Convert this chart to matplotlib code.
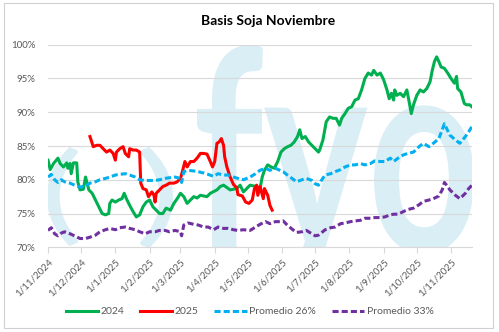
import matplotlib
matplotlib.use("Agg")
import matplotlib.pyplot as plt
import pandas as pd
from matplotlib.textpath import TextPath
from matplotlib.patches import PathPatch, Rectangle
from matplotlib.transforms import Affine2D
from matplotlib.font_manager import FontProperties

plt.rcParams['font.family'] = ['Lato', 'DejaVu Sans']

# dias contados desde el 1/11/2024, basis en %
inicio = pd.Timestamp('2024-11-01')
fin_dias = 384

dias_2024 = [0, 2, 5, 9, 11, 14, 17, 18, 20, 21, 23, 26, 27, 29, 32, 34, 37, 40, 43, 46,
             49, 52, 55, 56, 58, 61, 64, 67, 69, 71, 74, 77, 80, 83, 86, 89, 92, 95, 98, 101,
             104, 107, 111, 114, 117, 120, 123, 126, 129, 132, 135, 138, 144, 147, 153, 156,
             159, 165, 171, 174, 177, 183, 189, 192, 194, 196, 199, 202, 205, 208, 211, 214,
             217, 220, 223, 226, 228, 230, 233, 236, 239, 242, 245, 246, 249, 252, 255, 258,
             261, 264, 266, 269, 272, 275, 278, 281, 284, 287, 290, 293, 295, 298, 301, 304,
             307, 309, 311, 313, 314, 316, 319, 322, 325, 327, 329, 331, 334, 337, 340, 343,
             346, 348, 350, 352, 354, 356, 359, 362, 365, 368, 370, 371, 374, 377, 379, 382, 384]
basis_2024 = [82.9, 81.5, 82.4, 83.2, 82.4, 81.9, 82.5, 81.7, 82.4, 80.9, 82.5, 82.5, 79.7, 78.5,
              78.6, 80.4, 78.5, 78.0, 77.0, 76.0, 75.0, 74.8, 75.0, 76.5, 77.0, 76.7, 77.0, 77.2,
              78.0, 77.2, 76.2, 75.3, 74.5, 74.8, 76.0, 76.7, 77.0, 76.0, 75.5, 75.0, 75.0, 75.8,
              75.5, 76.5, 77.2, 78.0, 77.5, 76.5, 77.0, 77.5, 77.3, 77.7, 77.5, 78.0, 78.5, 79.0,
              79.2, 78.5, 78.7, 79.2, 78.2, 79.2, 79.0, 78.7, 80.4, 81.4, 82.2, 81.9, 81.7, 82.7,
              84.1, 84.6, 84.9, 85.1, 85.6, 86.4, 87.4, 86.1, 86.4, 85.6, 85.1, 84.6, 84.1, 84.4,
              85.9, 88.6, 89.3, 89.1, 89.1, 88.1, 89.1, 89.8, 90.6, 90.8, 91.8, 92.0, 93.3, 95.0,
              95.8, 95.5, 96.2, 95.5, 95.8, 94.8, 93.3, 92.0, 92.8, 91.8, 93.3, 92.5, 92.8, 92.3,
              93.3, 91.6, 89.8, 91.1, 92.5, 93.3, 93.0, 93.5, 94.5, 96.2, 97.5, 98.2, 97.5, 96.7,
              96.5, 95.8, 95.0, 94.3, 95.3, 93.5, 93.0, 91.3, 91.1, 91.1, 90.8]

dias_2025 = [38, 41, 44, 47, 50, 53, 56, 59, 61, 62, 65, 68, 70, 73, 74, 77, 80, 83, 84, 86,
             89, 91, 94, 96, 97, 98, 101, 104, 107, 110, 114, 117, 120, 122, 124, 126, 129, 132,
             135, 138, 141, 144, 147, 149, 151, 153, 155, 157, 159, 160, 162, 165, 168, 171, 172,
             176, 179, 182, 185, 187, 189, 190, 192, 195, 196, 199, 201, 203]
basis_2025 = [86.4, 84.9, 85.1, 85.1, 84.6, 84.1, 84.4, 83.9, 82.9, 84.1, 84.6, 84.9, 83.9, 83.4,
              84.6, 84.4, 84.4, 84.1, 79.5, 78.7, 78.5, 77.5, 78.2, 77.7, 76.7, 78.0, 78.5, 79.0,
              79.2, 79.5, 79.5, 79.7, 80.2, 81.4, 82.7, 81.9, 82.7, 82.7, 83.2, 83.9, 83.9, 83.8,
              82.7, 81.9, 82.7, 85.4, 85.6, 86.1, 85.1, 83.4, 81.9, 80.4, 79.3, 78.8, 77.8, 77.6,
              76.7, 76.5, 77.0, 78.7, 79.2, 77.7, 79.0, 77.2, 78.7, 77.7, 76.2, 75.5]

dias_prom = [0, 3, 6, 9, 12, 15, 20, 24, 29, 34, 38, 43, 47, 52, 56, 61, 65, 70, 74, 79, 83, 88,
             92, 97, 101, 106, 110, 115, 120, 121, 123, 127, 132, 136, 141, 145, 150, 154, 159,
             163, 168, 172, 177, 183, 188, 192, 197, 201, 206, 210, 213, 216, 221, 225, 230, 234,
             239, 242, 245, 248, 251, 256, 260, 265, 269, 274, 278, 283, 287, 292, 296, 301, 305,
             310, 313, 317, 322, 326, 331, 336, 340, 345, 349, 354, 357, 359, 361, 364, 369, 373,
             378, 381, 384]
prom_26 = [80.4, 80.8, 80.0, 79.6, 80.0, 79.7, 79.5, 79.2, 78.9, 79.1, 79.5, 79.7, 80.0, 80.2,
           80.4, 80.7, 80.8, 80.9, 80.7, 80.4, 80.0, 79.9, 79.9, 79.9, 80.0, 80.2, 80.3, 80.4,
           80.2, 79.6, 81.2, 81.4, 81.3, 81.2, 81.0, 80.8, 80.5, 80.9, 80.7, 80.7, 80.4, 80.2,
           80.0, 80.4, 80.9, 81.4, 81.7, 81.4, 81.7, 81.4, 81.2, 80.8, 80.2, 79.7, 80.0, 80.2,
           79.9, 79.4, 79.2, 80.0, 80.7, 80.9, 81.2, 81.5, 81.9, 82.2, 82.2, 82.4, 82.2, 82.4,
           82.8, 82.7, 82.7, 83.2, 82.7, 83.2, 83.7, 83.9, 84.1, 84.9, 85.4, 84.9, 85.4, 86.1,
           87.4, 88.3, 87.6, 86.6, 85.9, 85.4, 86.4, 87.1, 87.9]
prom_33 = [72.5, 72.9, 72.0, 71.7, 72.1, 72.3, 72.0, 71.7, 71.3, 71.3, 71.5, 71.8, 72.3, 72.6,
           72.8, 72.6, 72.9, 73.0, 72.8, 72.6, 72.3, 72.0, 72.3, 72.3, 72.5, 72.5, 72.3, 72.5,
           72.3, 71.7, 73.3, 73.6, 73.4, 73.3, 73.0, 73.0, 72.6, 73.0, 72.8, 72.8, 72.6, 72.5,
           72.6, 72.5, 73.0, 73.4, 73.8, 73.5, 73.8, 73.8, 73.9, 73.4, 72.7, 72.2, 72.3, 72.5,
           72.0, 71.7, 71.8, 72.2, 72.6, 72.9, 73.0, 73.5, 73.6, 73.8, 73.9, 74.0, 74.3, 74.3,
           74.4, 74.4, 74.5, 74.8, 74.9, 74.9, 75.3, 75.6, 75.8, 76.3, 76.8, 77.0, 77.2, 77.6,
           78.5, 79.6, 79.2, 78.5, 77.7, 77.2, 78.0, 78.7, 79.2]

W, H = 499, 332
gris = '#595959'
celeste = '#daeef6'

fig = plt.figure(figsize=(W / 100, H / 100), dpi=100)
fig.patch.set_facecolor('white')


def fechas(dias):
    return inicio + pd.to_timedelta(dias, unit='D')


ax = fig.add_axes([48 / W, 1 - 247.3 / H, 424 / W, 202.6 / H])
ax.set_facecolor('none')


def marca(texto, x0, x1, y_top, y_base, peso='normal', toda=False):
    # letras de fondo: ancho x0..x1 y alto y_top..y_base en pixeles (origen arriba)
    tp = TextPath((0, 0), texto, size=100, prop=FontProperties(family='Lato', weight=peso))
    ext = tp.get_extents()
    y_ref = ext.y0 if toda else 0
    sx = (x1 - x0) / ext.width
    sy = (y_base - y_top) / (ext.y1 - y_ref)
    tr = (Affine2D().translate(-ext.x0, -y_ref).scale(sx / W, sy / H)
          .translate(x0 / W, (H - y_base) / H) + fig.transFigure)
    p = PathPatch(tp, transform=tr, fc=celeste, ec='none', zorder=0.2)
    ax.add_artist(p)
    p.set_clip_box(ax.bbox)


marca('(', 47, 78, 147, 246, toda=True)
marca(')', 140, 173, 147, 248, toda=True)
marca('fyo', 197, 474, 45, 252, 'bold')

fig.add_artist(Rectangle((3.5 / W, 1 - 327.5 / H), 489 / W, 325 / H, transform=fig.transFigure,
                         fill=False, ec='#d0d0d0', lw=0.8))

ax.plot(fechas(dias_2024), basis_2024, color='#00B050', lw=2.2, label='2024', solid_joinstyle='round')
ax.plot(fechas(dias_2025), basis_2025, color='#FF0000', lw=2.2, label='2025', solid_joinstyle='round')
ax.plot(fechas(dias_prom), prom_26, color='#00B0F0', lw=2.2, dashes=(2, 1), label='Promedio 26%')
ax.plot(fechas(dias_prom), prom_33, color='#7030A0', lw=2.2, dashes=(2, 1), label='Promedio 33%')

ax.set_xlim(inicio, inicio + pd.Timedelta(days=fin_dias))
ax.set_ylim(70, 100)

yt = list(range(70, 101, 5))
ax.set_yticks(yt)
ax.set_yticklabels([f'{v}%' for v in yt], fontsize=7, color=gris)
ax.yaxis.grid(True, color='#d9d9d9', lw=0.8)
ax.set_axisbelow(True)
ax.tick_params(axis='y', length=0, pad=9)

meses = pd.date_range('2024-11-01', '2025-11-01', freq='MS')
ax.set_xticks(meses)
ax.set_xticklabels([f'{d.day}/{d.month}/{d.year}' for d in meses], fontsize=7, color=gris,
                   rotation=45, ha='right', va='top', rotation_mode='anchor')
ax.tick_params(axis='x', length=4, color='#d9d9d9', pad=3)

for lado in ['left', 'right', 'top']:
    ax.spines[lado].set_visible(False)
ax.spines['bottom'].set_color('#d9d9d9')

fig.text(268 / W, 1 - 21 / H, 'Basis Soja Noviembre', ha='center', va='center',
         fontsize=10, fontweight='bold', color='black')

fig.legend(loc='center', bbox_to_anchor=(0.5, 1 - 311.7 / H), ncol=4, frameon=False,
           fontsize=7.5, handlelength=3.1, handletextpad=0.25, columnspacing=1.5,
           labelcolor=gris)

fig.savefig('out.png', dpi=100)
